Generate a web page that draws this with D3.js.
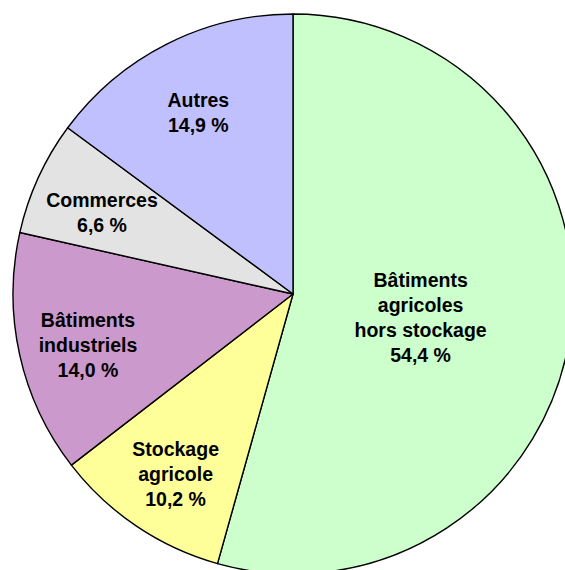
<!DOCTYPE html>
<html>
<head>
  <meta charset="utf-8">
  <title>Répartition des surfaces</title>
  <style>
    body { margin: 0; background: #fff; }
    svg { display: block; }
  </style>
</head>
<body>
  <svg width="565" height="570"></svg>
  <script src="https://cdn.jsdelivr.net/npm/d3@7"></script>
  <script>
  // données
  var categories = [
    ["Bâtiments", "agricoles", "hors stockage"],
    ["Stockage", "agricole"],
    ["Bâtiments", "industriels"],
    ["Commerces"],
    ["Autres"]
  ];
  var values = [54.4, 10.2, 14.0, 6.6, 14.9];
  var valueLabels = ["54,4 %", "10,2 %", "14,0 %", "6,6 %", "14,9 %"];
  var colors = ["#CCFFCC", "#FFFF99", "#CC99CC", "#E3E3E3", "#C0C0FF"];

  var svg = d3.select("svg");
  var cx = 293, cy = 294, radius = 280;

  var slices = values.map(function(v, i) {
    return { value: v, lines: categories[i].concat([valueLabels[i]]), color: colors[i] };
  });

  var pie = d3.pie()
    .sort(null)
    .value(function(d) { return d.value; });

  var arc = d3.arc().innerRadius(0).outerRadius(radius);

  var g = svg.append("g")
    .attr("transform", "translate(" + cx + "," + cy + ")");

  var arcs = pie(slices);

  g.selectAll("path")
    .data(arcs)
    .enter()
    .append("path")
    .attr("d", arc)
    .attr("fill", function(d) { return d.data.color; })
    .attr("stroke", "#000")
    .attr("stroke-width", 1.4)
    .attr("stroke-linejoin", "round");

  // la grande part a son étiquette plus près du centre
  function labelPos(d) {
    var r = (d.endAngle - d.startAngle) > Math.PI ? radius * 0.46 : radius * 0.75;
    var p = d3.arc().innerRadius(r).outerRadius(r).centroid(d);
    return [p[0], p[1] + 6];
  }

  var lineH = 25;
  var labels = g.selectAll("text")
    .data(arcs)
    .enter()
    .append("text")
    .attr("text-anchor", "middle")
    .style("font-family", "'Liberation Sans', Arial, sans-serif")
    .style("font-weight", "bold")
    .style("font-size", "19.5px")
    .attr("fill", "#000")
    .attr("transform", function(d) {
      var p = labelPos(d);
      return "translate(" + p[0] + "," + p[1] + ")";
    });

  labels.each(function(d) {
    var n = d.data.lines.length;
    var t = d3.select(this);
    d.data.lines.forEach(function(line, i) {
      t.append("tspan")
        .attr("x", 0)
        .attr("y", (i - (n - 1) / 2) * lineH)
        .attr("dy", "0.35em")
        .text(line);
    });
  });
  </script>
</body>
</html>
